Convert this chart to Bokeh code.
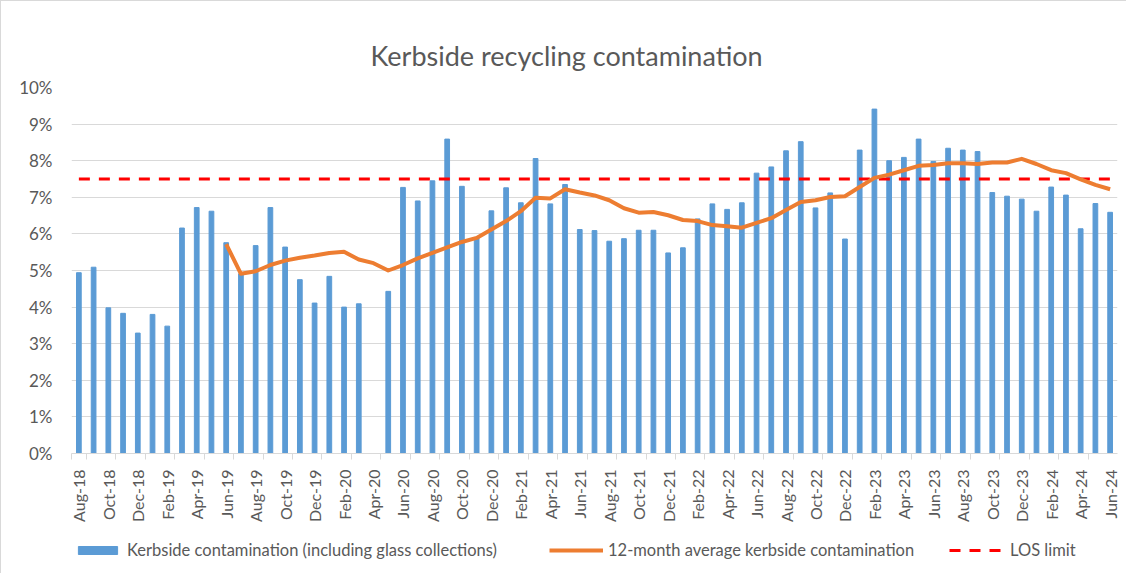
import math
import pandas as pd
from bokeh.plotting import figure
from bokeh.layouts import column
from bokeh.models import (ColumnDataSource, FixedTicker, Legend, LegendItem, Range1d)
from bokeh.embed import file_html
from bokeh.resources import INLINE

nan = float("nan")

months = list(pd.date_range("2018-08-01", periods=71, freq="MS").strftime("%b-%y"))

contamination = [4.94, 5.09, 3.98, 3.83, 3.29, 3.80, 3.48, 6.16, 6.72, 6.62,
                 5.76, 4.91, 5.68, 6.72, 5.64, 4.75, 4.11, 4.84, 4.00, 4.09,
                 nan, 4.43, 7.27, 6.90, 7.45, 8.59, 7.30, 5.89, 6.63, 7.26,
                 6.85, 8.06, 6.82, 7.35, 6.12, 6.09, 5.80, 5.87, 6.10, 6.10,
                 5.48, 5.62, 6.41, 6.82, 6.67, 6.85, 7.66, 7.83, 8.27, 8.52,
                 6.71, 7.12, 5.86, 8.29, 9.41, 8.00, 8.09, 8.59, 7.98, 8.34,
                 8.29, 8.25, 7.13, 7.03, 6.95, 6.62, 7.28, 7.06, 6.14, 6.83,
                 6.59]

avg_12m = [nan, nan, nan, nan, nan, nan, nan, nan, nan, nan,
           5.72, 4.91, 4.98, 5.15, 5.27, 5.35, 5.41, 5.48, 5.51, 5.30,
           5.20, 5.00, 5.15, 5.33, 5.48, 5.63, 5.78, 5.89, 6.12, 6.35,
           6.62, 6.99, 6.97, 7.22, 7.13, 7.05, 6.92, 6.70, 6.58, 6.60,
           6.51, 6.38, 6.35, 6.24, 6.21, 6.17, 6.30, 6.43, 6.65, 6.87,
           6.92, 7.01, 7.03, 7.28, 7.53, 7.62, 7.74, 7.86, 7.88, 7.93,
           7.93, 7.91, 7.95, 7.95, 8.05, 7.91, 7.74, 7.66, 7.49, 7.34,
           7.22]

los_limit = [7.5] * 71

y_ticks = [0, 1, 2, 3, 4, 5, 6, 7, 8, 9, 10]
y_tick_labels = ["0%", "1%", "2%", "3%", "4%", "5%", "6%", "7%", "8%", "9%", "10%"]

title_text = "Kerbside recycling contamination"
series_names = ["Kerbside contamination (including glass collections)",
                "12-month average kerbside contamination",
                "LOS limit"]

FONT = "Lato"
GREY = "#595959"
BLUE = "#5B9BD5"
ORANGE = "#ED7D31"
RED = "#FF0000"

src = ColumnDataSource(dict(
    x=list(range(len(months))),
    month=months,
    bar=contamination,
    avg=avg_12m,
    los=los_limit,
))

W = 1126
p = figure(width=W, height=535, output_backend="svg", toolbar_location=None,
           x_range=Range1d(-0.5, len(months) - 0.5), y_range=Range1d(0, 10),
           min_border_left=70, min_border_right=10, min_border_top=86, min_border_bottom=83)
p.styles = {"border-left": "1px solid #d9d9d9", "border-top": "1px solid #d9d9d9"}
p.outline_line_color = None
p.background_fill_color = "white"
p.border_fill_color = "white"

p.title.text = title_text
p.title.align = "left"
p.title.offset = 299
p.title.text_font = FONT
p.title.text_font_size = "27px"
p.title.text_font_style = "normal"
p.title.text_color = GREY
p.title.standoff = 32

p.vbar(x="x", top="bar", width=0.32, source=src, color=BLUE)
p.line(x="x", y="los", source=src, line_color=RED, line_width=3, line_dash="11 9")
p.line(x="x", y="avg", source=src, line_color=ORANGE, line_width=4, line_join="round")

# Axes
xa = p.xaxis[0]
even_idx = list(range(0, len(months), 2))
xa.ticker = FixedTicker(ticks=even_idx, minor_ticks=[i - 0.5 for i in range(1, len(months), 2)] + [-0.5])
xa.major_label_overrides = {i: months[i] for i in even_idx}
xa.major_label_orientation = math.pi / 2
xa.major_label_text_font = FONT
xa.major_label_text_font_size = "16px"
xa.major_label_text_color = GREY
xa.major_tick_line_color = None
xa.major_tick_out = 0
xa.major_tick_in = 0
xa.minor_tick_line_color = "#d9d9d9"
xa.minor_tick_out = 6
xa.minor_tick_in = 0
xa.axis_line_color = "#d9d9d9"
xa.major_label_standoff = 10

ya = p.yaxis[0]
ya.ticker = FixedTicker(ticks=y_ticks)
ya.major_label_overrides = {t: l for t, l in zip(y_ticks, y_tick_labels)}
ya.major_label_text_font = FONT
ya.major_label_text_font_size = "17px"
ya.major_label_text_color = GREY
ya.axis_line_color = None
ya.major_tick_line_color = None
ya.minor_tick_line_color = None
ya.major_tick_out = 0
ya.major_label_standoff = 19

p.xgrid.grid_line_color = None
p.ygrid.grid_line_color = "#d9d9d9"
p.ygrid.grid_line_width = 1

# Legend strip (separate figure so the legend is not clipped).
# Its frame is aligned with the main frame by the column layout (left edge = 70px).
lh = 38
pl = figure(width=W, height=lh, output_backend="svg", toolbar_location=None,
            x_range=Range1d(-0.5, len(months) - 0.5), y_range=Range1d(100, 101),
            min_border_left=70, min_border_right=10, min_border_top=0, min_border_bottom=0)
pl.styles = {"border-left": "1px solid #d9d9d9"}
pl.axis.visible = False
pl.grid.visible = False
pl.outline_line_color = None
pl.background_fill_color = "white"
pl.border_fill_color = "white"

# legend proxies: same series, outside the strip's visible y range
r_bar = pl.vbar(x="x", top="bar", width=0.32, source=src, color=BLUE)
r_avg = pl.line(x="x", y="avg", source=src, line_color=ORANGE, line_width=4)
r_los = pl.line(x="x", y="los", source=src, line_color=RED, line_width=3, line_dash="11 9")

FRAME_LEFT = 70

def add_leg(label, rend, x_abs, gw):
    lg = Legend(items=[LegendItem(label=label, renderers=[rend])],
                location=(x_abs - FRAME_LEFT, 13), orientation="horizontal",
                glyph_width=gw, glyph_height=10, label_standoff=5,
                padding=0, margin=0, border_line_color=None,
                background_fill_alpha=0,
                label_text_font=FONT, label_text_font_size="16.5px",
                label_text_color=GREY)
    pl.add_layout(lg, "center")

add_leg(series_names[0], r_bar, 72, 49)
add_leg(series_names[1], r_avg, 548, 54)
add_leg(series_names[2], r_los, 948, 56)

open("out.html", "w").write(file_html(column(p, pl, spacing=0), INLINE))
